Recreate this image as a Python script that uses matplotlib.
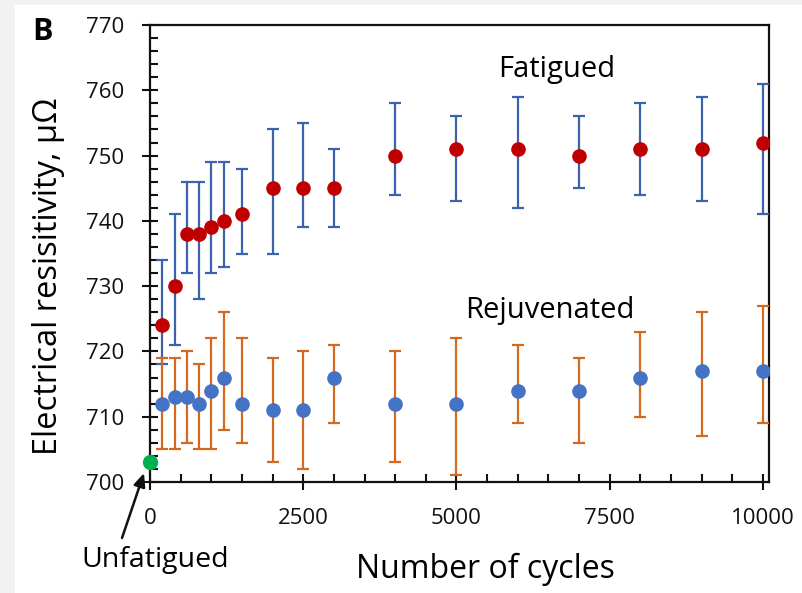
import matplotlib
matplotlib.use("Agg")
import matplotlib.pyplot as plt
from matplotlib.patches import Rectangle
from matplotlib.ticker import MultipleLocator

plt.rcParams['font.family'] = ['Open Sans', 'DejaVu Sans']

# ---- data ----
cycles = [200, 400, 600, 800, 1000, 1200, 1500, 2000, 2500, 3000, 4000, 5000, 6000, 7000, 8000, 9000, 10000]
fatigued = [724, 730, 738, 738, 739, 740, 741, 745, 745, 745, 750, 751, 751, 750, 751, 751, 752]
fatigued_hi = [734, 741, 746, 746, 749, 749, 748, 754, 755, 751, 758, 756, 759, 756, 758, 759, 761]
fatigued_lo = [718, 721, 732, 728, 732, 733, 735, 735, 739, 739, 744, 743, 742, 745, 744, 743, 741]
rejuv = [712, 713, 713, 712, 714, 716, 712, 711, 711, 716, 712, 712, 714, 714, 716, 717, 717]
rejuv_hi = [719, 719, 720, 718, 722, 726, 722, 719, 720, 721, 720, 722, 721, 719, 723, 726, 727]
rejuv_lo = [705, 705, 706, 705, 705, 708, 706, 703, 702, 709, 703, 701, 709, 706, 710, 707, 709]
unfatigued_x = [0]
unfatigued_y = [703]
xticks = [0, 2500, 5000, 7500, 10000]
yticks = [700, 710, 720, 730, 740, 750, 760, 770]

W, H = 803, 593
fig = plt.figure(figsize=(W / 100, H / 100), dpi=100, facecolor='#f2f2f2')
fig.patches.append(Rectangle((15 / W, 0), 1 - 15 / W, 1 - 5 / H, transform=fig.transFigure,
                             facecolor='white', edgecolor='none', zorder=-10))

def fx(px):
    return px / W

def fy(py):
    return 1 - py / H

ax = fig.add_axes([fx(150), fy(482), (769 - 150) / W, (482 - 25) / H])
ax.set_facecolor('white')

f_err = [[f - l for f, l in zip(fatigued, fatigued_lo)], [h - f for f, h in zip(fatigued, fatigued_hi)]]
r_err = [[r - l for r, l in zip(rejuv, rejuv_lo)], [h - r for r, h in zip(rejuv, rejuv_hi)]]

ax.errorbar(cycles, fatigued, yerr=f_err, fmt='o', color='#c00000', ecolor='#3c62ad',
            elinewidth=1.6, capsize=4.5, capthick=1.6, markersize=9.5, zorder=3)
ax.errorbar(cycles, rejuv, yerr=r_err, fmt='o', color='#4472c4', ecolor='#d2691e',
            elinewidth=1.6, capsize=4.5, capthick=1.6, markersize=9.5, zorder=3)
ax.plot(unfatigued_x, unfatigued_y, 'o', color='#00b050', markersize=10, zorder=4, clip_on=False)

ax.set_xlim(0, 10100)
ax.set_ylim(700, 770)
ax.set_xticks(xticks)
ax.set_yticks(yticks)
ax.xaxis.set_minor_locator(MultipleLocator(500))
ax.yaxis.set_minor_locator(MultipleLocator(2))
for s in ax.spines.values():
    s.set_linewidth(1.6)
    s.set_color('#111111')
ax.tick_params(which='major', direction='inout', length=11, width=1.5, labelsize=16,
               colors='#111111')
ax.tick_params(which='minor', direction='in', length=5.5, width=1.5, colors='#111111')
ax.tick_params(axis='x', which='both', top=False)
ax.tick_params(axis='y', which='both', right=False)
ax.tick_params(axis='y', which='major', pad=13)
ax.tick_params(axis='x', which='major', pad=13)

ax.text(0.6575, 0.886, 'Fatigued', transform=ax.transAxes, fontsize=21, ha='center', va='baseline')
ax.text(0.646, 0.359, 'Rejuvenated', transform=ax.transAxes, fontsize=21, ha='center', va='baseline')

fig.text(fx(43), fy(32), 'B', fontsize=22, fontweight='bold', ha='center', va='center')
fig.text(fx(49), fy(276), 'Electrical resisitivity, μΩ', fontsize=23.5, rotation=90,
         ha='center', va='center')
fig.text(fx(485), fy(578), 'Number of cycles', fontsize=23, ha='center', va='baseline')
fig.text(fx(155), fy(567), 'Unfatigued', fontsize=20.5, ha='center', va='baseline')

ax.annotate('', xy=(fx(144), fy(473)), xycoords='figure fraction',
            xytext=(fx(122), fy(538)), textcoords='figure fraction',
            arrowprops=dict(arrowstyle='-|>,head_length=0.8,head_width=0.35', color='#111111', lw=1.8,
                            shrinkA=0, shrinkB=0),
            annotation_clip=False)

fig.savefig('out.png', dpi=100, facecolor=fig.get_facecolor())
